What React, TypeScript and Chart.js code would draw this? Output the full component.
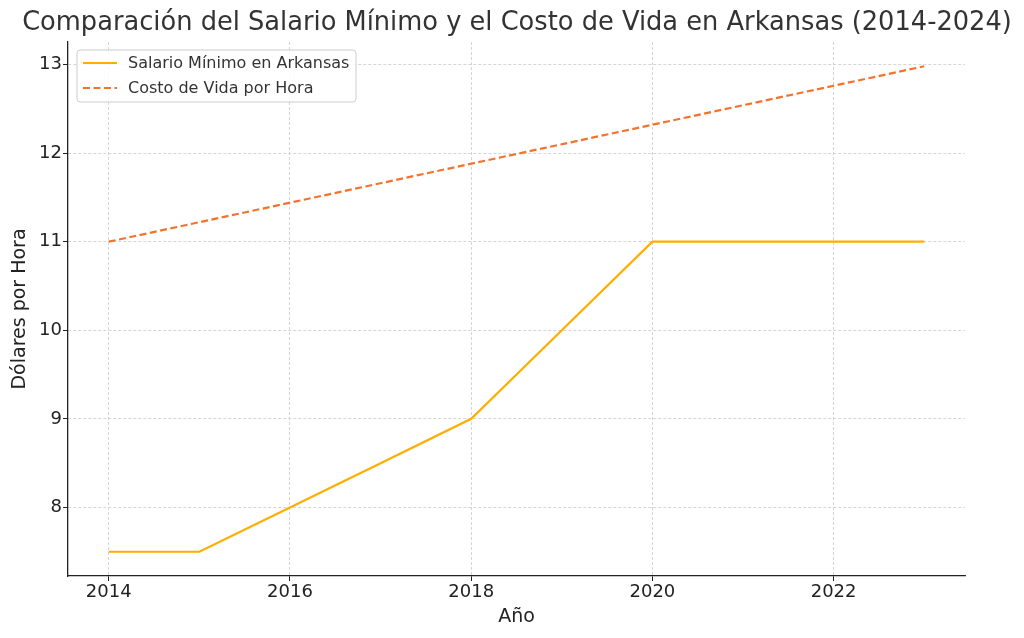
import React, { useEffect, useRef } from "react";
import { Chart, registerables } from "chart.js";

Chart.register(...registerables);

const years = [2014, 2015, 2016, 2017, 2018, 2019, 2020, 2021, 2022, 2023];
const minimumWage = [7.5, 7.5, 8, 8.5, 9, 10, 11, 11, 11, 11];
const costOfLiving = [11, 11.22, 11.44, 11.66, 11.88, 12.1, 12.32, 12.54, 12.76, 12.98];
const xTicks = [2014, 2016, 2018, 2020, 2022];
const yTicks = [8, 9, 10, 11, 12, 13];
const seriesLabels = ["Salario Mínimo en Arkansas", "Costo de Vida por Hora"];
const titleText = "Comparación del Salario Mínimo y el Costo de Vida en Arkansas (2014-2024)";
const xTitle = "Año";
const yTitle = "Dólares por Hora";

const FONT = "'DejaVu Sans', sans-serif";
const C1 = "#ffae00";
const C2 = "#f4722b";

const titlePlugin = {
  id: "customTitle",
  afterDraw(chart: any) {
    const ctx = chart.ctx;
    ctx.save();
    ctx.fillStyle = "#333333";
    ctx.font = `25.7px ${FONT}`;
    ctx.textAlign = "center";
    ctx.textBaseline = "middle";
    ctx.fillText(titleText, 517, 23);
    ctx.restore();
  },
};

const legendPlugin = {
  id: "insideLegend",
  afterDraw(chart: any) {
    const ctx = chart.ctx;
    const area = chart.chartArea;
    const x0 = area.left + 9;
    const y0 = area.top + 8;
    const w = 279;
    const h = 52;
    ctx.save();
    ctx.beginPath();
    const r = 3;
    ctx.moveTo(x0 + r, y0);
    ctx.lineTo(x0 + w - r, y0);
    ctx.quadraticCurveTo(x0 + w, y0, x0 + w, y0 + r);
    ctx.lineTo(x0 + w, y0 + h - r);
    ctx.quadraticCurveTo(x0 + w, y0 + h, x0 + w - r, y0 + h);
    ctx.lineTo(x0 + r, y0 + h);
    ctx.quadraticCurveTo(x0, y0 + h, x0, y0 + h - r);
    ctx.lineTo(x0, y0 + r);
    ctx.quadraticCurveTo(x0, y0, x0 + r, y0);
    ctx.closePath();
    ctx.fillStyle = "rgba(255,255,255,0.85)";
    ctx.fill();
    ctx.strokeStyle = "#cccccc";
    ctx.lineWidth = 1;
    ctx.stroke();
    chart.data.datasets.forEach((ds: any, i: number) => {
      const y = y0 + 13 + i * 25;
      ctx.beginPath();
      ctx.setLineDash(ds.borderDash || []);
      ctx.strokeStyle = ds.borderColor;
      ctx.lineWidth = ds.borderWidth;
      ctx.moveTo(x0 + 6, y);
      ctx.lineTo(x0 + 40, y);
      ctx.stroke();
      ctx.setLineDash([]);
      ctx.fillStyle = "#333333";
      ctx.font = `16px ${FONT}`;
      ctx.textBaseline = "middle";
      ctx.textAlign = "left";
      ctx.fillText(ds.label, x0 + 51, y + 1);
    });
    ctx.restore();
  },
};

export default function App() {
  const ref = useRef<HTMLCanvasElement>(null);
  useEffect(() => {
    if (!ref.current) return;
    const chart = new Chart(ref.current, {
      type: "line",
      data: {
        datasets: [
          {
            label: seriesLabels[0],
            data: years.map((y, i) => ({ x: y, y: minimumWage[i] })),
            borderColor: C1,
            backgroundColor: C1,
            borderWidth: 2.2,
            pointRadius: 0,
            tension: 0,
          },
          {
            label: seriesLabels[1],
            data: years.map((y, i) => ({ x: y, y: costOfLiving[i] })),
            borderColor: C2,
            backgroundColor: C2,
            borderWidth: 2.2,
            borderDash: [7, 3.5],
            pointRadius: 0,
            tension: 0,
          },
        ],
      },
      options: {
        animation: false,
        responsive: false,
        maintainAspectRatio: false,
        devicePixelRatio: 1,
        layout: { padding: { left: 0, right: 59, top: 42, bottom: 0 } },
        plugins: {
          legend: { display: false },
          tooltip: { enabled: false },
          title: { display: false },
        },
        scales: {
          x: {
            type: "linear",
            min: 2013.55,
            max: 2023.45,
            afterBuildTicks: (s: any) => {
              s.ticks = xTicks.map((v) => ({ value: v }));
            },
            afterFit: (s: any) => {
              s.height = 62;
            },
            ticks: {
              color: "#222222",
              font: { family: FONT, size: 18 },
              padding: 1,
              maxRotation: 0,
              callback: (v: any) => String(v),
            },
            grid: {
              color: "#d0d0d0",
              lineWidth: 0.9,
              tickColor: "#222222",
              tickLength: 5,
              tickWidth: 1,
            },
            border: { display: true, color: "#222222", width: 1.3, dash: [3, 2] },
            title: {
              display: true,
              text: xTitle,
              color: "#222222",
              font: { family: FONT, size: 19 },
              padding: { top: 0, bottom: 10 },
            },
          },
          y: {
            type: "linear",
            min: 7.226,
            max: 13.254,
            afterBuildTicks: (s: any) => {
              s.ticks = yTicks.map((v) => ({ value: v }));
            },
            afterFit: (s: any) => {
              s.width = 68;
            },
            ticks: {
              color: "#222222",
              font: { family: FONT, size: 18 },
              padding: 1,
              callback: (v: any) => String(v),
            },
            grid: {
              color: "#d0d0d0",
              lineWidth: 0.9,
              tickColor: "#222222",
              tickLength: 5,
              tickWidth: 1,
            },
            border: { display: true, color: "#222222", width: 1.3, dash: [3, 2] },
            title: {
              display: true,
              text: yTitle,
              color: "#222222",
              font: { family: FONT, size: 19 },
              padding: { top: 9, bottom: 0 },
            },
          },
        },
      },
      plugins: [titlePlugin, legendPlugin],
    } as any);
    return () => chart.destroy();
  }, []);
  return (
    <div style={{ position: "fixed", left: 0, top: 0, width: 1024, height: 638, background: "#fff" }}>
      <canvas ref={ref} width={1024} height={638} style={{ width: 1024, height: 638, display: "block" }} />
    </div>
  );
}
